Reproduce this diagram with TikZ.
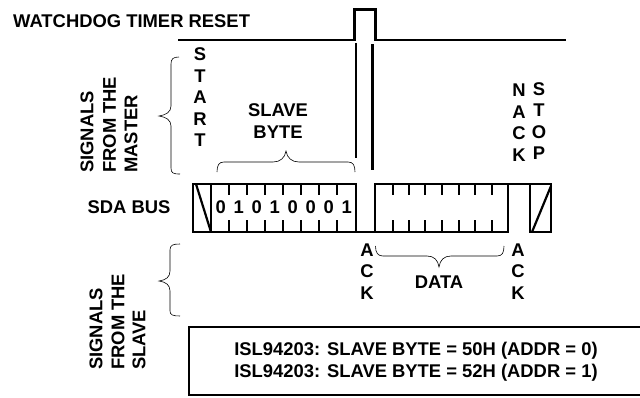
\documentclass[tikz,border=0pt]{standalone}
\usepackage{fontspec}
\setmainfont{Liberation Sans}
\usetikzlibrary{positioning,calc}
\begin{document}
\begin{tikzpicture}[x=1pt,y=-1pt,font=\fontsize{18.4}{21.5}\selectfont\bfseries,
  sig/.style={line width=2.2pt},
  bracket/.style={line width=0.6pt},
  lbl/.style={inner sep=0pt,align=center},
  vlbl/.style={inner sep=0pt,align=center,rotate=90}]
\useasboundingbox (0,0) rectangle (640,397);
% watchdog line
\draw[sig] (178,40) -- (354.5,40) -- (354.5,9.5) -- (375.5,9.5) -- (375.5,40) -- (566,40);
\node[lbl,anchor=west] (wdt) at (13,21) {WATCHDOG TIMER RESET};
\draw[sig] (356,43) -- (356,158);
\draw[sig] (372.5,44) -- (372.5,170);
% bus frame
\draw[sig] (193,184) rectangle (356,232);
\draw[sig] (356,232) -- (375,232);
\draw[sig] (375,232) -- (375,184) -- (551,184) -- (551,232) -- (530,232) -- (530,184);
\draw[sig] (375,232) -- (508,232) -- (508,184);
\draw[sig] (211,184) -- (211,232);
\draw[sig] (196,184) -- (211,232);
\draw[sig] (532,232) -- (551,186);
% ticks
\foreach \t in {229,247,265,283,301,319,337,392.7,408.7,425.3,442,458.7,475.3,492} {
  \draw[sig] (\t,184) -- (\t,195);
  \draw[sig] (\t,220) -- (\t,232);
}
% slave byte bits
\foreach \b [count=\i from 0] in {0,1,0,1,0,0,0,1} {
  \node[lbl] (bit\i) at ({220.7+\i*18},207) {\b};
}
% braces
\draw[bracket] (179,57) .. controls (173,57) and (171,59) .. (171,64) -- (171,106)
  .. controls (171,112) and (166,115) .. (159,116) .. controls (166,117) and (171,120) .. (171,126)
  -- (171,168) .. controls (171,173) and (173,174) .. (180,174);
\draw[bracket] (180,244) .. controls (173,244) and (170,245) .. (170,250) -- (170,271)
  .. controls (170,277) and (166,280) .. (159,281) .. controls (166,282) and (170,285) .. (170,291)
  -- (170,311) .. controls (170,315) and (173,316) .. (180,316);
\draw[bracket] (217,172) .. controls (217,165) and (219,162) .. (224,162) -- (273,162)
  .. controls (280,162) and (285,158) .. (286,151) .. controls (287,158) and (292,162) .. (299,162)
  -- (348,162) .. controls (353,162) and (355,165) .. (355,172);
\draw[bracket] (375.5,246) .. controls (375.5,253) and (378,256) .. (383,256) -- (427,256)
  .. controls (434,256) and (438,260) .. (439,267) .. controls (440,260) and (444,256) .. (451,256)
  -- (497,256) .. controls (502,256) and (504,253) .. (504,246);
% labels
\node[lbl] (startlbl) at (200,97.5) {S\\T\\A\\R\\T};
\node[lbl] (slavelbl) at (278,121) {SLAVE\\BYTE};
\node[lbl] (nacklbl) at (519,122.5) {N\\A\\C\\K};
\node[lbl] (stoplbl) at (539,121) {S\\T\\O\\P};
\node[lbl] (sdalbl) at (129,207) {SDA BUS};
\node[lbl] (ackone) at (367,271.5) {A\\C\\K};
\node[lbl] (acktwo) at (518,271.5) {A\\C\\K};
\node[lbl] (datalbl) at (439,282) {DATA};
\node[vlbl,anchor=west] (mastera) at (87,173) {SIGNALS};
\node[vlbl,anchor=west] (masterb) at (109.5,173) {FROM THE};
\node[vlbl,anchor=west] (masterc) at (131,173) {MASTER};
\node[vlbl,anchor=west] (slavea) at (96,370) {SIGNALS};
\node[vlbl,anchor=west] (slaveb) at (118,370) {FROM THE};
\node[vlbl,anchor=west] (slavec) at (139,370) {SLAVE};
% address box
\draw[line width=1.8pt] (640,327) -- (189,327) -- (189,395) -- (640,395);
\node[lbl] (addrzero) at (416,350.5) {ISL94203: SLAVE BYTE = 50H (ADDR = 0)};
\node[lbl] (addrone) at (416,373) {ISL94203: SLAVE BYTE = 52H (ADDR = 1)};
\end{tikzpicture}
\end{document}
